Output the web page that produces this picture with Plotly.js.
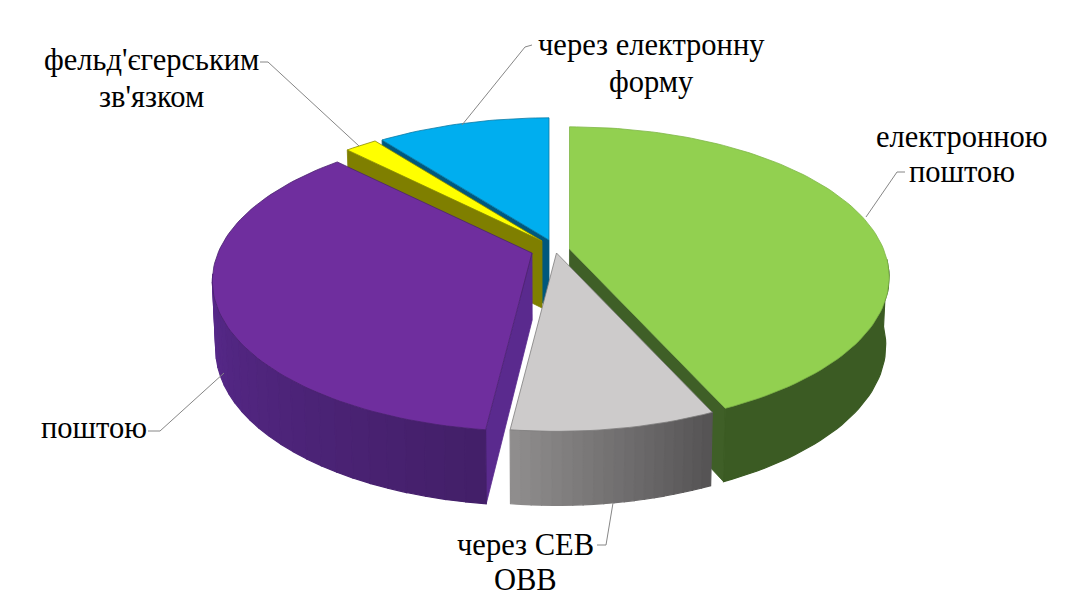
<!DOCTYPE html>
<html><head><meta charset="utf-8">
<script src="https://cdn.plot.ly/plotly-3.0.1.min.js"></script>
<style>html,body{margin:0;padding:0;background:#fff}#chart{width:1067px;height:600px}</style>
</head><body><div id="chart"></div>
<script>
// --- data (shares in percent, clockwise from 12 o'clock)
const categories = ["електронною поштою","через СЕВ ОВВ","поштою","фельд'єгерським зв'язком","через електронну форму"];
const shares = [43.25, 8.67, 35.68, 1.95, 10.45];
const labelLines = [
  ["електронною","поштою"],
  ["через СЕВ","ОВВ"],
  ["поштою"],
  ["фельд'єгерським","зв'язком"],
  ["через електронну","форму"]
];

// --- styles and geometry
const topColors   = ["#92d050","#cdcbcb","#6f2e9e","#ffff00","#00aeef"];
const edgeColors  = ["#7fb648","#7d7c7c","#4a2270","#8a8a00","#0a7aa5"];
const radialColors= ["#3f5f27",null,"#5a2a8e","#7f7f00","#00587d"];
const wallFrom    = ["#3a5a24","#908e8e","#58298c","#7f7f00","#00587d"];
const wallTo      = ["#3c5c22","#545354","#431f68","#7f7f00","#00587d"];
const apexX = [569.5,556.5,532,542,549];
const apexY = [249,253,253,241,240];
const labelX = [962,525,94,151,651];
const labelY = [[137,172],[545,580],[428],[60,97],[45,82]];
const leaders = [
  [[905,897,866],[172,172,217]],
  [[597,606,613],[545,545,503]],
  [[148,160,224],[431,431,373]],
  [[260,268,359],[62,62,146]],
  [[532,525,462],[45,47,125]]
];
const A=314,B=145,P=0.187,D=67,Q=0.095,SHRINK=0.99,CX=550;
const rad=d=>d*Math.PI/180;

function rimTop(i,deg){const X=Math.sin(rad(deg)),Y=Math.cos(rad(deg)),w=1+P*Y;
  return [apexX[i]+A*X/w, apexY[i]-B*Y/w, Y];}
function low(x,y,Y){return [CX+(x-CX)*SHRINK, y+D/(1+Q*Y)];}
function apexLow(i){return low(apexX[i],apexY[i],0);}
function poly(xs,ys,fill,line,w){
  return {type:'scatter',mode:'lines',x:xs.concat(xs[0]),y:ys.concat(ys[0]),fill:'toself',
    fillcolor:fill,line:{color:line||fill,width:w||(line?0.8:1.2)},hoverinfo:'skip',showlegend:false};
}
function hex(c){return [1,3,5].map(k=>parseInt(c.substr(k,2),16));}
function mix(a,b,t){const p=hex(a),q=hex(b);return 'rgb('+p.map((v,k)=>Math.round(v+(q[k]-v)*t)).join(',')+')';}

// slice angle limits from the values
const total=shares.reduce((s,v)=>s+v,0);
let acc=0;
const starts=[],ends=[];
shares.forEach(v=>{starts.push(acc/total*360);acc+=v;ends.push(acc/total*360);});

function radial(i,deg){
  const t=rimTop(i,deg),b=low(t[0],t[1],t[2]),a=apexLow(i);
  return poly([apexX[i],t[0],b[0],a[0]],[apexY[i],t[1],b[1],a[1]],radialColors[i],radialColors[i]);
}
function outer(i,from,to,bands,steps){
  const out=[];
  for(let k=0;k<bands;k++){
    const a0=from+(to-from)*k/bands,a1=from+(to-from)*(k+1)/bands;
    const tx=[],ty=[],bx=[],by=[];
    for(let s=0;s<=steps;s++){
      const t=rimTop(i,a0+(a1-a0)*s/steps),b=low(t[0],t[1],t[2]);
      tx.push(t[0]);ty.push(t[1]);bx.unshift(b[0]);by.unshift(b[1]);
    }
    out.push(poly(tx.concat(bx),ty.concat(by),mix(wallFrom[i],wallTo[i],(k+0.5)/bands)));
  }
  return out;
}
function face(i){
  const xs=[apexX[i]],ys=[apexY[i]],n=Math.max(4,Math.ceil((ends[i]-starts[i])/1.5));
  for(let k=0;k<=n;k++){const t=rimTop(i,starts[i]+(ends[i]-starts[i])*k/n);xs.push(t[0]);ys.push(t[1]);}
  return poly(xs,ys,topColors[i],edgeColors[i]);
}

const traces=[];
// painter's order, back to front
traces.push(radial(4,starts[4]),face(4));
traces.push(radial(3,starts[3]),face(3));
traces.push(radial(2,starts[2]),...outer(2,262,starts[2],24,4),face(2));
traces.push(radial(0,ends[0]),...outer(0,94,ends[0],1,40),face(0));
traces.push(...outer(1,ends[1],starts[1],20,2),face(1));
leaders.forEach(l=>traces.push({type:'scatter',mode:'lines',x:l[0],y:l[1],line:{color:'#868686',width:1},hoverinfo:'skip',showlegend:false}));

const annotations=[];
labelLines.forEach((lines,i)=>lines.forEach((t,j)=>annotations.push({text:t,x:labelX[i],y:labelY[i][j],xref:'x',yref:'y',showarrow:false,
  xanchor:'center',yanchor:'middle',align:'center',font:{family:'"Liberation Serif","Times New Roman",serif',size:30.5,color:'#000'}})));

Plotly.newPlot('chart',traces,{
  width:1067,height:600,margin:{l:0,r:0,t:0,b:0},paper_bgcolor:'#fff',plot_bgcolor:'#fff',
  xaxis:{range:[0,1067],visible:false,fixedrange:true},
  yaxis:{range:[600,0],visible:false,fixedrange:true},
  showlegend:false,hovermode:false,annotations:annotations
},{displayModeBar:false,staticPlot:true});
</script></body></html>
